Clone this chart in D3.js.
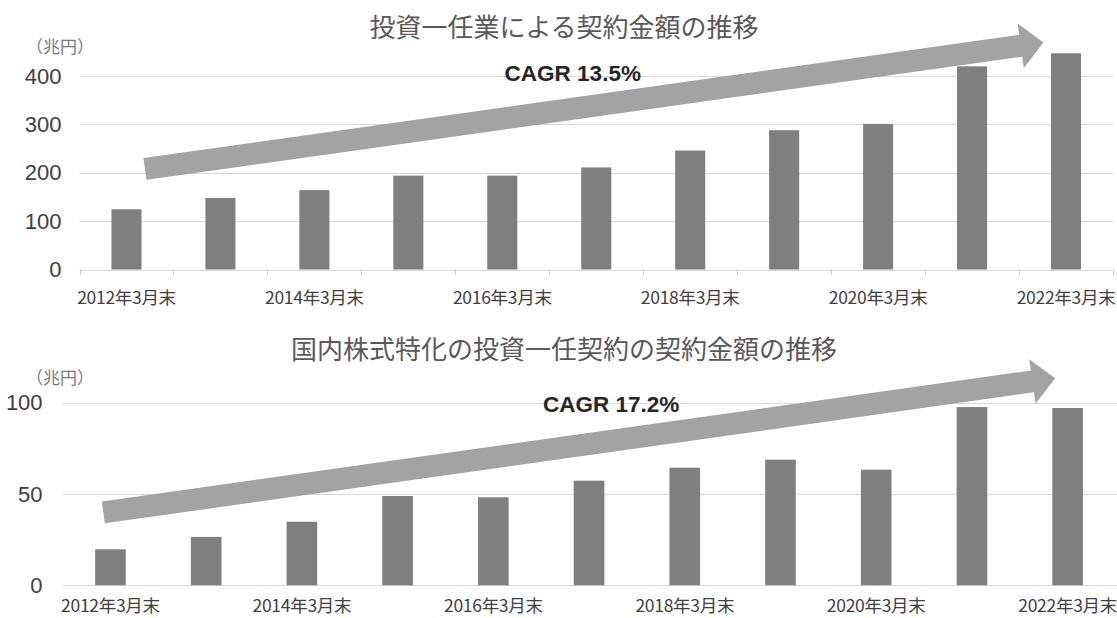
<!DOCTYPE html>
<html>
<head>
<meta charset="utf-8">
<script src="https://cdn.jsdelivr.net/npm/d3@7.9.0/dist/d3.min.js"></script>
<style>
  html, body { margin: 0; padding: 0; background: #fff; }
  svg { display: block; }
</style>
</head>
<body>
<svg id="chart" width="1117" height="618"></svg>
<script>
// categories shared by both panels
const categories = [
  '2012年3月末', '2013年3月末', '2014年3月末', '2015年3月末', '2016年3月末', '2017年3月末',
  '2018年3月末', '2019年3月末', '2020年3月末', '2021年3月末', '2022年3月末'
];

// 投資一任業による契約金額 (兆円)
const totalValues = [124.5, 148, 164, 194, 194, 211, 246, 288, 301, 420, 447];
const totalTicks = [0, 100, 200, 300, 400];

// 国内株式特化の投資一任契約の契約金額 (兆円)
const domesticValues = [19.7, 26.5, 34.8, 48.9, 48.2, 57.3, 64.4, 68.8, 63.3, 97.6, 97.1];
const domesticTicks = [0, 50, 100];

const titles = ['投資一任業による契約金額の推移', '国内株式特化の投資一任契約の契約金額の推移'];
const cagrLabels = ['CAGR 13.5%', 'CAGR 17.2%'];
const unitLabel = '（兆円）';

const JP = '"Noto Sans CJK JP", "Noto Sans", sans-serif';
const svg = d3.select('#chart');

function drawPanel(cfg) {
  const g = svg.append('g');

  const x = d3.scaleBand()
    .domain(categories)
    .range([cfg.left, cfg.right])
    .paddingInner(0.68)
    .paddingOuter(0.34);

  const y = d3.scaleLinear()
    .domain([0, d3.max(cfg.ticks)])
    .range([cfg.bottom, cfg.top]);

  // position in category units -> pixel
  const px = (pos) => cfg.left + pos * x.step();

  // title
  g.append('text')
    .attr('x', 564)
    .attr('y', cfg.titleY)
    .attr('text-anchor', 'middle')
    .attr('dominant-baseline', 'central')
    .attr('font-family', JP)
    .attr('font-size', 26)
    .attr('fill', '#595959')
    .text(cfg.title);

  // unit
  g.append('text')
    .attr('x', 26)
    .attr('y', cfg.unitY)
    .attr('dominant-baseline', 'central')
    .attr('font-family', JP)
    .attr('font-size', 17)
    .attr('fill', '#7a7a7a')
    .text(unitLabel);

  // gridlines
  g.selectAll('line.grid')
    .data(cfg.ticks)
    .join('line')
    .attr('class', 'grid')
    .attr('x1', cfg.left)
    .attr('x2', cfg.gridRight)
    .attr('y1', d => Math.round(y(d)) + 0.5)
    .attr('y2', d => Math.round(y(d)) + 0.5)
    .attr('stroke', '#d9d9d9')
    .attr('stroke-width', 1);

  // y tick labels
  g.selectAll('text.ytick')
    .data(cfg.ticks)
    .join('text')
    .attr('class', 'ytick')
    .attr('x', cfg.left - cfg.labelGap)
    .attr('y', d => y(d))
    .attr('text-anchor', 'end')
    .attr('dominant-baseline', 'central')
    .attr('font-family', '"Liberation Sans", Arial, sans-serif')
    .attr('font-size', 22)
    .attr('fill', '#404040')
    .text(d => d);

  // tick marks on category boundaries
  if (cfg.tickMarks) {
    g.selectAll('line.xtick')
      .data(d3.range(categories.length + 1))
      .join('line')
      .attr('class', 'xtick')
      .attr('x1', i => Math.round(px(i)) + 0.5)
      .attr('x2', i => Math.round(px(i)) + 0.5)
      .attr('y1', cfg.bottom)
      .attr('y2', cfg.bottom + 6)
      .attr('stroke', '#d0d0d0');
  }

  // bars
  g.selectAll('rect.bar')
    .data(cfg.values)
    .join('rect')
    .attr('class', 'bar')
    .attr('x', (d, i) => x(categories[i]))
    .attr('width', x.bandwidth())
    .attr('y', d => y(d))
    .attr('height', d => y(0) - y(d))
    .attr('fill', '#7f7f7f');

  // x labels, every other category
  g.selectAll('text.xlab')
    .data(categories.filter((c, i) => i % 2 === 0))
    .join('text')
    .attr('class', 'xlab')
    .attr('x', d => x(d) + x.bandwidth() / 2)
    .attr('y', cfg.xLabelY)
    .attr('text-anchor', 'middle')
    .attr('dominant-baseline', 'central')
    .attr('font-family', JP)
    .attr('font-size', 17.5)
    .attr('letter-spacing', -0.3)
    .attr('fill', '#404040')
    .text(d => d);

  // growth arrow (anchored in category / value units)
  const [a0, a1] = cfg.arrow;
  const p0 = [px(a0[0]), y(a0[1])];
  const p1 = [px(a1[0]), y(a1[1])];
  const dx = p1[0] - p0[0], dy = p1[1] - p0[1];
  const len = Math.hypot(dx, dy);
  const u = [dx / len, dy / len];
  const n = [-u[1], u[0]];
  const h = 11, H = 22.5, L = 23;
  const b = [p1[0] - u[0] * L, p1[1] - u[1] * L];
  const pt = (p, k) => [p[0] + n[0] * k, p[1] + n[1] * k];
  const poly = [pt(p0, -h), pt(b, -h), pt(b, -H), p1, pt(b, H), pt(b, h), pt(p0, h)];
  g.append('path')
    .attr('d', d3.line()(poly) + 'Z')
    .attr('fill', '#a3a3a3');

  // CAGR label
  g.append('text')
    .attr('x', px(cfg.cagrAt[0]))
    .attr('y', y(cfg.cagrAt[1]))
    .attr('text-anchor', 'middle')
    .attr('font-family', '"Liberation Sans", Arial, sans-serif')
    .attr('font-weight', 'bold')
    .attr('font-size', 22.5)
    .attr('fill', '#262626')
    .text(cfg.cagr);
}

drawPanel({
  title: titles[0], cagr: cagrLabels[0],
  values: totalValues, ticks: totalTicks,
  left: 79.5, right: 1113, gridRight: 1113, top: 76, bottom: 269.5,
  labelGap: 18, tickMarks: true,
  titleY: 25, unitY: 45, xLabelY: 296,
  arrow: [[0.697, 208], [10.26, 469]],
  cagrAt: [5.25, 390]
});

drawPanel({
  title: titles[1], cagr: cagrLabels[1],
  values: domesticValues, ticks: domesticTicks,
  left: 62.6, right: 1115.5, gridRight: 1117, top: 402.7, bottom: 585.3,
  labelGap: 20, tickMarks: false,
  titleY: 347, unitY: 376, xLabelY: 604,
  arrow: [[0.425, 39.9], [10.37, 113.4]],
  cagrAt: [5.73, 95]
});
</script>
</body>
</html>
